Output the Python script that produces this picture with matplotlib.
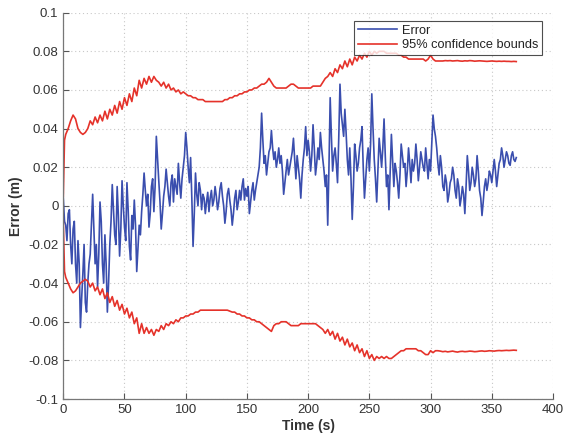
import numpy as np
import matplotlib
matplotlib.use("Agg")
import matplotlib.pyplot as plt

plt.rcParams['font.family'] = ['Liberation Sans', 'DejaVu Sans']

# ---- data ----
# error at even seconds (0, 2, 4, ... 370)
error_even = [
    0.004, -0.010, -0.004, -0.020, -0.012, -0.030, -0.018, -0.063, -0.035, -0.050,
    -0.040, -0.025, 0.006, -0.030, -0.042, 0.002, -0.030, -0.015, -0.055, -0.020,
    0.011, -0.015, 0.010, -0.026, 0.013, -0.011, 0.012, -0.021, -0.005, 0.003,
    -0.034, -0.010, -0.003, 0.017, 0.000, -0.011, 0.010, -0.003, 0.036, 0.013,
    -0.012, 0.005, 0.019, 0.005, 0.012, 0.002, 0.010, 0.022, 0.004, 0.020,
    0.038, 0.020, 0.025, -0.021, 0.017, 0.000, 0.008, 0.006, -0.004, 0.007,
    0.004, 0.000, 0.010, -0.002, 0.009, 0.005, -0.009, 0.006, 0.003, -0.010,
    0.004, -0.002, 0.008, 0.010, 0.003, 0.005, -0.004, 0.008, 0.003, 0.012,
    0.020, 0.048, 0.022, 0.016, 0.028, 0.039, 0.024, 0.020, 0.030, 0.026,
    0.006, 0.018, 0.016, 0.024, 0.035, 0.014, 0.020, 0.004, 0.024, 0.041,
    0.034, 0.018, 0.042, 0.016, 0.030, 0.038, 0.024, 0.010, -0.010, 0.056,
    0.018, 0.030, 0.012, 0.063, 0.042, 0.050, 0.024, 0.030, -0.007, 0.032,
    0.018, 0.030, 0.041, 0.004, 0.024, 0.018, 0.058, 0.024, 0.002, 0.035,
    0.020, 0.045, 0.010, -0.002, 0.037, 0.010, 0.018, 0.004, 0.032, 0.020,
    0.010, 0.030, 0.012, 0.018, 0.032, 0.013, 0.028, 0.020, 0.030, 0.014,
    0.018, 0.047, 0.036, 0.022, 0.026, 0.010, 0.016, 0.002, 0.012, 0.020,
    0.008, 0.014, 0.000, 0.010, -0.004, 0.026, 0.008, 0.020, 0.010, 0.026,
    0.008, -0.005, 0.010, 0.008, 0.018, 0.012, 0.024, 0.010, 0.022, 0.030,
    0.020, 0.028, 0.022, 0.026, 0.024, 0.025,
]
# error at odd seconds (1, 3, 5, ... 369)
error_odd = [
    -0.008, -0.018, -0.002, -0.030, -0.008, -0.040, -0.030, -0.048, -0.020, -0.055,
    -0.030, -0.010, -0.012, -0.020, -0.025, -0.008, -0.040, -0.030, -0.040, -0.008,
    -0.002, -0.020, -0.005, -0.012, 0.000, -0.018, -0.002, -0.028, -0.012, -0.010,
    -0.022, -0.015, 0.006, 0.008, 0.006, -0.004, 0.014, 0.010, 0.024, 0.002,
    -0.004, 0.010, 0.012, 0.000, 0.016, 0.014, 0.006, 0.012, 0.014, 0.026,
    0.030, 0.012, 0.004, -0.004, 0.006, 0.012, -0.002, 0.004, 0.002, -0.003,
    0.008, 0.003, 0.005, 0.002, 0.012, 0.000, -0.003, 0.009, -0.002, -0.004,
    0.008, 0.002, 0.003, 0.014, 0.009, 0.010, 0.002, 0.012, 0.008, 0.016,
    0.030, 0.034, 0.026, 0.022, 0.030, 0.030, 0.028, 0.024, 0.022, 0.018,
    0.012, 0.024, 0.020, 0.028, 0.024, 0.026, 0.014, 0.016, 0.030, 0.026,
    0.028, 0.026, 0.030, 0.022, 0.024, 0.030, 0.018, 0.016, 0.020, 0.036,
    0.026, 0.022, 0.035, 0.048, 0.036, 0.038, 0.016, 0.014, 0.010, 0.026,
    0.022, 0.034, 0.020, 0.014, 0.030, 0.032, 0.040, 0.014, 0.018, 0.028,
    0.030, 0.026, 0.016, 0.018, 0.024, 0.022, 0.012, 0.016, 0.026, 0.022,
    0.018, 0.022, 0.024, 0.022, 0.024, 0.020, 0.024, 0.018, 0.022, 0.024,
    0.032, 0.040, 0.030, 0.016, 0.020, 0.008, 0.012, 0.006, 0.014, 0.016,
    0.004, 0.010, 0.004, 0.006, 0.010, 0.018, 0.012, 0.016, 0.014, 0.018,
    0.004, 0.002, 0.014, 0.012, 0.016, 0.018, 0.018, 0.016, 0.024, 0.026,
    0.024, 0.026, 0.021, 0.028, 0.023,
]

bound_times_start = [0, 1]
upper_vals = [
    0.005, 0.034,
    0.037, 0.040, 0.044, 0.047, 0.045, 0.040, 0.038, 0.037, 0.038, 0.040,
    0.044, 0.042, 0.046, 0.043, 0.047, 0.044, 0.049, 0.045, 0.050, 0.047,
    0.052, 0.048, 0.054, 0.050, 0.056, 0.052, 0.058, 0.054, 0.061, 0.057,
    0.065, 0.061, 0.066, 0.063, 0.067, 0.064, 0.067, 0.065, 0.064, 0.062,
    0.064, 0.061, 0.063, 0.060, 0.061, 0.059, 0.060, 0.058, 0.059, 0.058,
    0.057, 0.057, 0.056, 0.056, 0.055, 0.055, 0.055, 0.054, 0.054, 0.054,
    0.054, 0.054, 0.054, 0.054, 0.054, 0.055, 0.055, 0.056, 0.056, 0.057,
    0.057, 0.058, 0.058, 0.059, 0.059, 0.060, 0.060, 0.061, 0.061, 0.062,
    0.063, 0.063, 0.064, 0.066, 0.064, 0.062, 0.061, 0.061, 0.061, 0.061,
    0.061, 0.062, 0.063, 0.063, 0.062, 0.061, 0.061, 0.061, 0.061, 0.061,
    0.061, 0.062, 0.062, 0.062, 0.062, 0.064, 0.066, 0.067, 0.069, 0.067,
    0.071, 0.069, 0.073, 0.071, 0.075, 0.072, 0.076, 0.073, 0.077, 0.075,
    0.078, 0.076, 0.079, 0.077, 0.080, 0.078, 0.080, 0.079, 0.080, 0.080,
    0.080, 0.079, 0.079, 0.079, 0.079, 0.079, 0.078, 0.078, 0.077, 0.077,
    0.076, 0.076, 0.076, 0.076, 0.076, 0.076, 0.076, 0.075, 0.076, 0.078,
    0.076, 0.075, 0.075, 0.075, 0.075, 0.0752, 0.0751, 0.0752, 0.0750, 0.0751,
    0.0752, 0.0750, 0.0749, 0.0751, 0.0750, 0.0752, 0.0751, 0.0749, 0.0750, 0.0751,
    0.0750, 0.0749, 0.0748, 0.0749, 0.0750, 0.0749, 0.0748, 0.0749, 0.0748, 0.0749,
    0.0748, 0.0748, 0.0747, 0.0748, 0.0747,
]
lower_vals = [
    -0.008, -0.034,
    -0.037, -0.040, -0.043, -0.045, -0.044, -0.042, -0.040, -0.039, -0.038, -0.039,
    -0.042, -0.040, -0.044, -0.042, -0.046, -0.043, -0.048, -0.045, -0.050, -0.047,
    -0.052, -0.049, -0.054, -0.051, -0.056, -0.053, -0.058, -0.055, -0.061, -0.058,
    -0.066, -0.061, -0.066, -0.063, -0.066, -0.064, -0.067, -0.064, -0.065, -0.062,
    -0.064, -0.061, -0.062, -0.060, -0.061, -0.059, -0.060, -0.058, -0.058, -0.057,
    -0.057, -0.056, -0.056, -0.055, -0.055, -0.054, -0.054, -0.054, -0.054, -0.054,
    -0.054, -0.054, -0.054, -0.054, -0.054, -0.054, -0.054, -0.0545, -0.055, -0.055,
    -0.056, -0.056, -0.057, -0.057, -0.058, -0.058, -0.059, -0.059, -0.060, -0.060,
    -0.061, -0.062, -0.063, -0.064, -0.065, -0.062, -0.061, -0.061, -0.060, -0.060,
    -0.060, -0.061, -0.062, -0.062, -0.062, -0.062, -0.061, -0.061, -0.061, -0.061,
    -0.061, -0.061, -0.061, -0.062, -0.063, -0.064, -0.066, -0.064, -0.067, -0.065,
    -0.069, -0.066, -0.070, -0.068, -0.072, -0.069, -0.073, -0.071, -0.075, -0.072,
    -0.076, -0.074, -0.078, -0.075, -0.079, -0.077, -0.080, -0.078, -0.079, -0.078,
    -0.079, -0.078, -0.079, -0.079, -0.078, -0.077, -0.076, -0.075, -0.075, -0.074,
    -0.074, -0.074, -0.074, -0.074, -0.075, -0.075, -0.076, -0.077, -0.077, -0.075,
    -0.076, -0.075, -0.075, -0.0752, -0.0755, -0.0753, -0.0756, -0.0754, -0.0752, -0.0755,
    -0.0757, -0.0754, -0.0753, -0.0755, -0.0754, -0.0752, -0.0753, -0.0755, -0.0754, -0.0752,
    -0.0751, -0.0753, -0.0752, -0.0750, -0.0751, -0.0752, -0.0750, -0.0749, -0.0750, -0.0749,
    -0.0748, -0.0749, -0.0748, -0.0747, -0.0748,
]

x_ticks = [0, 50, 100, 150, 200, 250, 300, 350, 400]
y_ticks = [-0.1, -0.08, -0.06, -0.04, -0.02, 0, 0.02, 0.04, 0.06, 0.08, 0.1]
y_tick_labels = ['-0.1', '-0.08', '-0.06', '-0.04', '-0.02', '0',
                 '0.02', '0.04', '0.06', '0.08', '0.1']

# ---- assemble series on a 1 s grid ----
error_vals = np.empty(len(error_even) + len(error_odd))
error_vals[0::2] = error_even
error_vals[1::2] = error_odd
err_t = np.arange(len(error_vals))
bound_t = np.concatenate([bound_times_start,
                          np.arange(len(upper_vals) - len(bound_times_start)) * 2 + 2])

fig = plt.figure(figsize=(5.64, 4.38), dpi=100)
ax = fig.add_axes([0.1122, 0.089, 0.8683, 0.882])

blue = '#3a4eae'
red = '#e5322a'
ax.plot(err_t, error_vals, color=blue, lw=1.2, label='Error')
ax.plot(bound_t, upper_vals, color=red, lw=1.2, label='95% confidence bounds')
ax.plot(bound_t, lower_vals, color=red, lw=1.2)

ax.set_xlim(0, 400)
ax.set_ylim(-0.1, 0.1)
ax.set_xticks(x_ticks)
ax.set_xticklabels([str(v) for v in x_ticks])
ax.set_yticks(y_ticks)
ax.set_yticklabels(y_tick_labels)

ax.grid(True, linestyle=(0, (1, 2.5)), color='#c8c8c8', lw=0.8)
ax.tick_params(direction='in', length=4, colors='#555555', labelcolor='#333333',
               labelsize=9.5, width=0.8)
for s in ['top', 'right']:
    ax.spines[s].set_visible(False)
for s in ['left', 'bottom']:
    ax.spines[s].set_color('#777777')
    ax.spines[s].set_linewidth(0.9)

ax.set_xlabel('Time (s)', fontweight='bold', fontsize=10, color='#333333', labelpad=2)
ax.set_ylabel('Error (m)', fontweight='bold', fontsize=10, color='#333333', labelpad=4)

leg = ax.legend(loc='upper right', bbox_to_anchor=(0.9775, 0.9785), borderaxespad=0,
                fontsize=9.2, frameon=True, fancybox=False, handlelength=3.0,
                handletextpad=0.4, borderpad=0.3, labelspacing=0.2)
leg.get_frame().set_edgecolor('#222222')
leg.get_frame().set_linewidth(0.8)
for t in leg.get_texts():
    t.set_color('#222222')

fig.savefig('out.png', dpi=100)
